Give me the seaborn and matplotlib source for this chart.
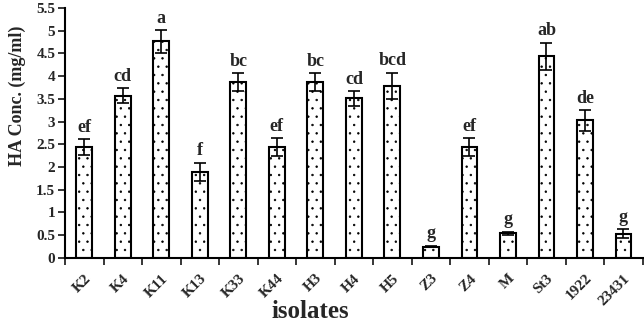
import matplotlib
matplotlib.use("Agg")
import matplotlib.pyplot as plt
import seaborn as sns
import pandas as pd
import numpy as np

isolates = ["K2", "K4", "K11", "K13", "K33", "K44", "H3", "H4", "H5", "Z3", "Z4", "M", "St3", "1922", "23431"]
conc = [2.44, 3.57, 4.77, 1.90, 3.87, 2.44, 3.87, 3.51, 3.79, 0.25, 2.44, 0.54, 4.44, 3.03, 0.53]
err = [0.18, 0.17, 0.25, 0.20, 0.20, 0.20, 0.20, 0.17, 0.29, 0.02, 0.20, 0.04, 0.30, 0.23, 0.10]
letters = ["ef", "cd", "a", "f", "bc", "ef", "bc", "cd", "bcd", "g", "ef", "g", "ab", "de", "g"]

sns.set_style("white")
plt.rcParams['font.family'] = ['Liberation Serif', 'DejaVu Serif']
plt.rcParams['hatch.linewidth'] = 0.5

df = pd.DataFrame({"isolate": isolates, "conc": conc})

fig = plt.figure(figsize=(6.44, 3.22), dpi=100)
ax = fig.add_axes([0.101, 0.199, 0.897, 0.776])

sns.barplot(data=df, x="isolate", y="conc", order=isolates, color="white",
            edgecolor="black", linewidth=1.5, width=0.41, ax=ax, errorbar=None)
for p in ax.patches:
    p.set_hatch('..')
    p.set_facecolor('white')

x = np.arange(len(isolates))
ax.errorbar(x, conc, yerr=err, fmt='none', ecolor='black', elinewidth=1.2,
            capsize=4, capthick=1.2)

for xi, v, e, t in zip(x, conc, err, letters):
    ax.text(xi, v + e + 0.07, t, ha='center', va='bottom', fontsize=13,
            fontweight='bold')

ax.set_xlim(-0.5, len(isolates) - 0.5)
ax.set_ylim(0, 5.5)
ax.set_yticks(np.arange(0, 5.51, 0.5))
ax.set_yticklabels([f"{v:g}" for v in np.arange(0, 5.51, 0.5)], fontsize=11, fontweight='bold')

ax.set_xticks(x)
ax.set_xticklabels(isolates, rotation=45, ha='right', rotation_mode='anchor',
                   fontsize=11, fontweight='bold')
ax.tick_params(axis='x', length=0, pad=10)
ax.set_xticks(np.arange(-0.5, len(isolates), 1.0), minor=True)
ax.tick_params(axis='x', which='minor', length=5, width=1.3, direction='out', bottom=True)
ax.tick_params(axis='y', length=5, width=1.3, direction='out', left=True, pad=2)

for s in ['top', 'right']:
    ax.spines[s].set_visible(False)
for s in ['left', 'bottom']:
    ax.spines[s].set_linewidth(1.5)
    ax.spines[s].set_color('black')

ax.set_xlabel("isolates", fontsize=18, fontweight='bold')
ax.xaxis.set_label_coords(0.424, -0.215)
ax.xaxis.label.set_verticalalignment('center')
ax.set_ylabel("HA Conc. (mg/ml)", fontsize=13, fontweight='bold')
ax.yaxis.set_label_coords(-0.083, 0.648)
ax.yaxis.label.set_verticalalignment('center')

fig.savefig("out.png", dpi=100)
